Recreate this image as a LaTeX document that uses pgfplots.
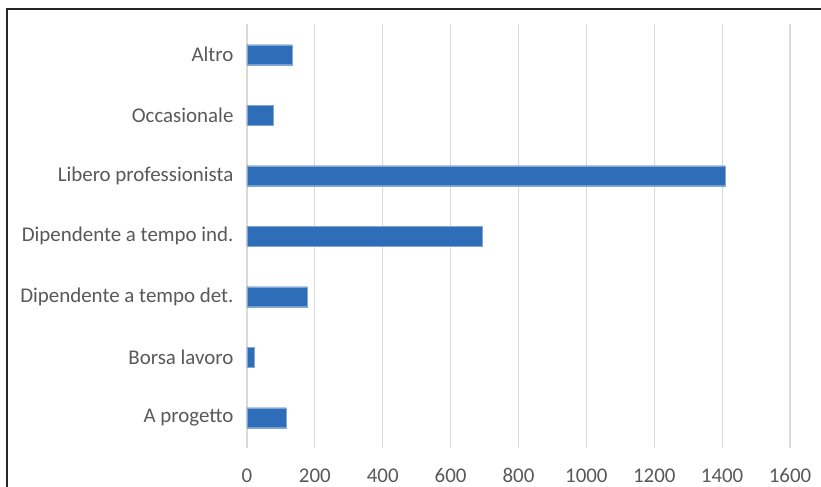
\documentclass[border=0pt]{standalone}
\usepackage{pgfplots}
\pgfplotsset{compat=1.18}
\usepackage{fontspec}
\setmainfont{Carlito}
\definecolor{barblue}{HTML}{2E6DB8}
\definecolor{gridgray}{HTML}{D9D9D9}
\definecolor{txtgray}{HTML}{595959}
\begin{document}
\begin{tikzpicture}[x=1bp,y=1bp]
\path[use as bounding box] (-247,-39) rectangle (574,448);
\fill[white] (-247,-39) rectangle (574,448);
\begin{axis}[
  at={(0,0)}, anchor=south west,
  scale only axis, width=543bp, height=423.5bp,
  xbar, bar width=20bp,
  xmin=0, xmax=1600,
  ymin=-0.5, ymax=6.5,
  ytick={0,1,2,3,4,5,6},
  yticklabels={A progetto,Borsa lavoro,Dipendente a tempo det.,Dipendente a tempo ind.,Libero professionista,Occasionale,Altro},
  xtick={0,200,400,600,800,1000,1200,1400,1600},
  xmajorgrids, grid style={gridgray, line width=1.2pt},
  axis line style={draw=none},
  major tick length=0pt,
  tick label style={font=\fontsize{21}{24}\selectfont, text=txtgray},
  /pgf/number format/assume math mode=true,
  /pgf/number format/1000 sep={},
  yticklabel style={xshift=-10bp},
  xticklabel style={yshift=-17bp},
  clip=false,
]
\addplot[fill=barblue, draw=barblue!60!white, line width=0.4pt] coordinates {
 (115,0) (20,1) (178,2) (694,3) (1408,4) (76,5) (132,6)
};
\end{axis}
\draw[black!85, line width=1.6pt] (-240,-39) -- (-240,439) -- (574,439);
\end{tikzpicture}
\end{document}
